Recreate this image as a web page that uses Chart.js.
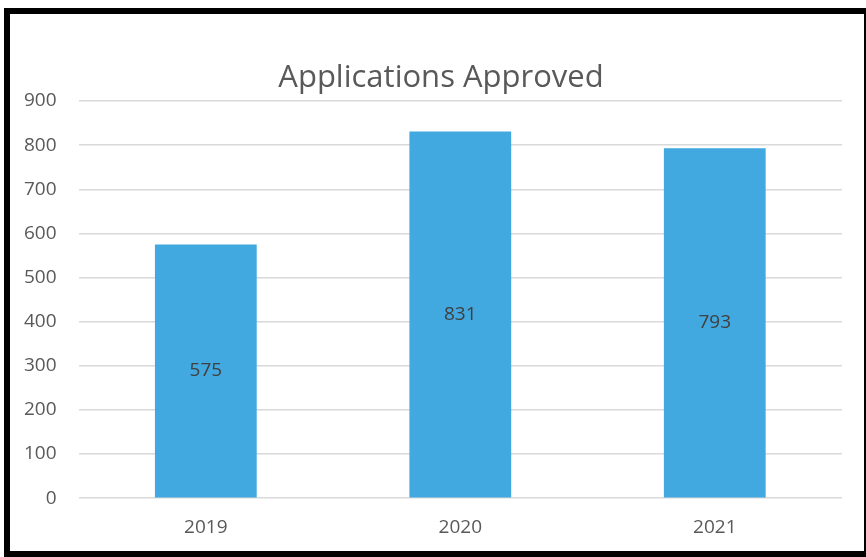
<!DOCTYPE html>
<html lang="en">
<head>
    <meta charset="UTF-8">
    <title>Applications Approved</title>
    <script src="https://cdn.jsdelivr.net/npm/chart.js"></script>
    <style>
        html, body { margin: 0; padding: 0; background: #fff; overflow: hidden; }
        #wrap { position: relative; width: 866px; height: 557px; }
        #frame {
            position: absolute; left: 4px; top: 8px; width: 854px; height: 537px;
            border: 6px solid #000; border-right-width: 2px; box-sizing: content-box;
            pointer-events: none;
        }
        canvas { position: absolute; left: 0; top: 0; }
    </style>
</head>
<body>
<div id="wrap">
    <canvas id="barChart" width="866" height="557"></canvas>
    <div id="frame"></div>
</div>
<script>
    // values
    const years = ['2019', '2020', '2021'];
    const approved = [575, 831, 793];
    const yTicks = [0, 100, 200, 300, 400, 500, 600, 700, 800, 900];
    const titleText = 'Applications Approved';

    // title sits a bit left of the plot centre, like the original, so draw it here
    const chartTitle = {
        id: 'chartTitle',
        afterDraw(chart) {
            const ctx = chart.ctx;
            ctx.save();
            ctx.font = '31px "Open Sans", sans-serif';
            ctx.fillStyle = '#595959';
            ctx.textAlign = 'center';
            ctx.textBaseline = 'alphabetic';
            ctx.fillText(titleText, chart.width / 2 + 8, 87);
            ctx.restore();
        }
    };

    // draws the value in the middle of each bar
    const midLabels = {
        id: 'midLabels',
        afterDatasetsDraw(chart) {
            const ctx = chart.ctx;
            const meta = chart.getDatasetMeta(0);
            ctx.save();
            ctx.font = '19px "Open Sans", sans-serif';
            ctx.fillStyle = '#404040';
            ctx.textAlign = 'center';
            ctx.textBaseline = 'middle';
            meta.data.forEach((bar, i) => {
                const y = (bar.y + bar.base) / 2;
                ctx.fillText(approved[i], bar.x, y);
            });
            ctx.restore();
        }
    };

    const ctx = document.getElementById('barChart').getContext('2d');
    new Chart(ctx, {
        type: 'bar',
        data: {
            labels: years,
            datasets: [{
                label: 'Applications Approved',
                data: approved,
                backgroundColor: '#41a8e0',
                barPercentage: 0.4,
                categoryPercentage: 1.0
            }]
        },
        options: {
            responsive: false,
            animation: false,
            layout: { padding: { left: 2, right: 24, top: 101, bottom: 0 } },
            plugins: {
                legend: { display: false },
                tooltip: { enabled: false },
                title: { display: false }
            },
            scales: {
                x: {
                    grid: { display: false, drawTicks: false },
                    border: { display: false },
                    ticks: {
                        color: '#595959',
                        font: { family: '"Open Sans", sans-serif', size: 19 },
                        padding: 18
                    }
                },
                y: {
                    min: 0,
                    max: 900,
                    afterBuildTicks(axis) {
                        axis.ticks = yTicks.map(v => ({ value: v }));
                    },
                    grid: { color: '#d9d9d9', lineWidth: 1.5, drawTicks: false },
                    border: { display: false },
                    ticks: {
                        color: '#595959',
                        font: { family: '"Open Sans", sans-serif', size: 19 },
                        padding: 22
                    }
                }
            }
        },
        plugins: [midLabels, chartTitle]
    });
</script>
</body>
</html>
